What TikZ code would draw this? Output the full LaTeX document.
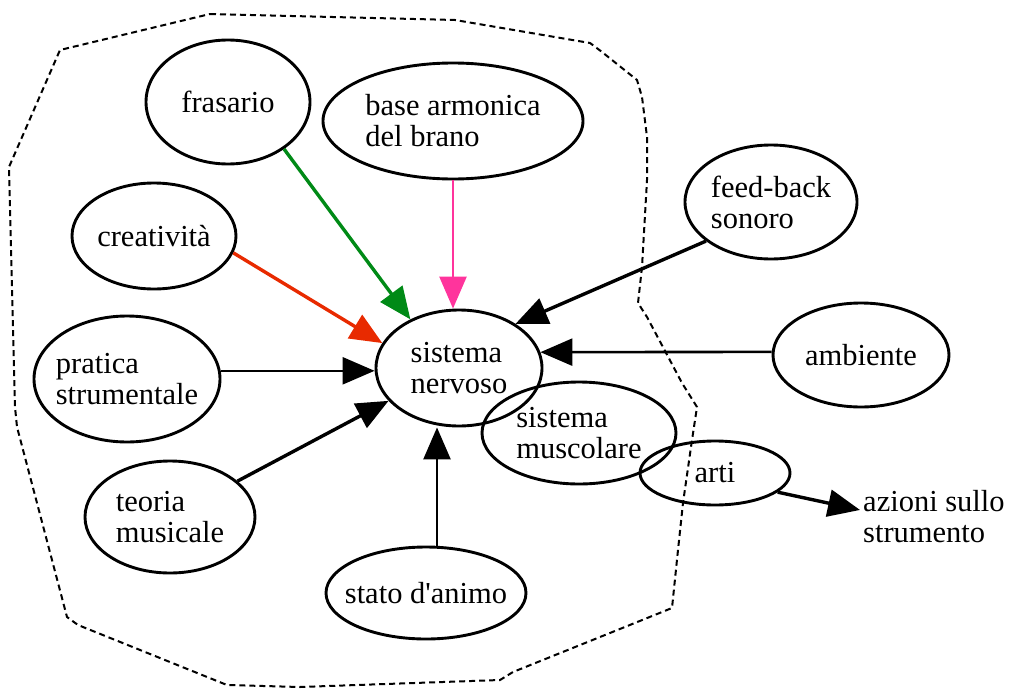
\documentclass[tikz,border=0pt]{standalone}
\usepackage{fontspec}
\setmainfont{Liberation Serif}[Ligatures=TeXOff]
\usetikzlibrary{arrows.meta,shapes.geometric,calc}
\definecolor{egreen}{RGB}{0,138,22}
\definecolor{ered}{RGB}{232,42,0}
\definecolor{epink}{RGB}{255,52,156}
\tikzset{
  nd/.style={ellipse,draw,line width=2.9pt,inner xsep=-22pt,inner ysep=-8pt,align=left,
    font=\fontsize{30.5}{31}\selectfont},
  txt/.style={inner sep=3pt,align=left,font=\fontsize{30.5}{31}\selectfont},
  edge/.style={line width=3.4pt,-{Triangle[length=32pt,width=27pt]}},
  thinedge/.style={line width=2.6pt,-{Triangle[length=32pt,width=27pt]}},
  boundary/.style={line width=2pt,dash pattern=on 6pt off 4pt}
}
\begin{document}
\begin{tikzpicture}[x=1pt,y=-1pt]
\useasboundingbox (0,0) rectangle (1009,688);
% dashed cluster boundary
\draw[boundary] (210,14) -- (455,20) -- (590,43) -- (602,52) -- (637,80) -- (642,97)
  -- (647,137) -- (647,180) -- (642,267) -- (638,303) -- (647,317) -- (682,383)
  -- (697,407) -- (692,440) -- (683,503) -- (678,550) -- (672,608) -- (600,637)
  -- (513,672) -- (500,680) -- (300,687) -- (227,685) -- (78,625) -- (67,617)
  -- (17,427) -- (15,407) -- (9,167) -- (60,50) -- cycle;
% nodes
\node[nd,minimum width=164pt,minimum height=124pt] (fras) at (228,102) {frasario};
\node[nd,minimum width=260pt,minimum height=116pt] (base) at (453,121) {base armonica\\del brano};
\node[nd,minimum width=164pt,minimum height=106pt] (crea) at (154,236) {creatività};
\node[nd,minimum width=186pt,minimum height=126pt] (prat) at (127,379) {pratica\\strumentale};
\node[nd,minimum width=170pt,minimum height=112pt] (teor) at (170,517) {teoria\\musicale};
\node[nd,minimum width=166pt,minimum height=116pt] (nerv) at (459,368) {sistema\\nervoso};
\node[nd,minimum width=200pt,minimum height=92pt] (stato) at (426,593) {stato d'animo};
\node[nd,minimum width=172pt,minimum height=114pt] (fb) at (771,202) {feed-back\\sonoro};
\node[nd,minimum width=176pt,minimum height=104pt] (amb) at (861,355) {ambiente};
\node[nd,minimum width=194pt,minimum height=102pt] (musc) at (579,433) {sistema\\muscolare};
\node[nd,minimum width=150pt,minimum height=64pt] (arti) at (715,473) {arti};
\node[txt,anchor=north west] (az) at (860,487) {azioni sullo\\strumento};
% edges
\draw[edge,egreen] (fras.-40) -- (nerv.135);
\draw[thinedge,epink] (base.south) -- (base.south |- nerv.north);
\draw[edge,ered] (crea.-12) -- (nerv.162);
\draw[thinedge] (prat.5) -- (prat.5 -| nerv.west);
\draw[edge] (teor.28) -- (nerv.205);
\draw[thinedge] ([xshift=11pt]stato.north) -- ([xshift=11pt]stato.north |- nerv.south);
\draw[edge] (fb.211) -- (nerv.38);
\draw[thinedge] (amb.178) -- (nerv.11);
\draw[edge] (arti.-17) -- (az.175);
\end{tikzpicture}
\end{document}
